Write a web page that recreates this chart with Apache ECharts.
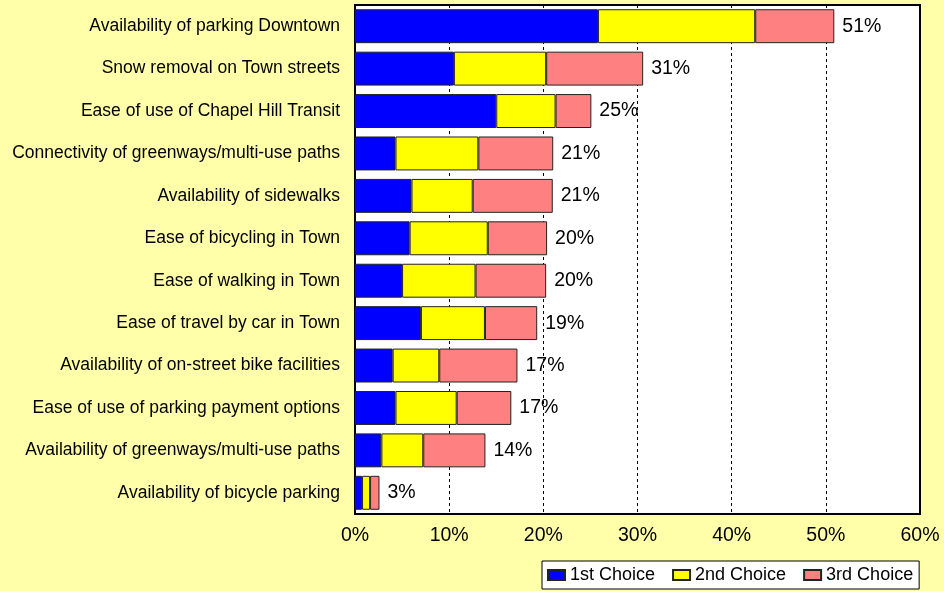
<!DOCTYPE html>
<html>
<head>
<meta charset="utf-8">
<script src="https://cdn.jsdelivr.net/npm/echarts@6/dist/echarts.min.js"></script>
<style>
  html, body { margin: 0; padding: 0; background: #FFFFAA; }
  #main { width: 944px; height: 591px; }
</style>
</head>
<body>
<div id="main"></div>
<script type="text/javascript">
	// categories, top to bottom
	var categories = [
		'Availability of parking Downtown',
		'Snow removal on Town streets',
		'Ease of use of Chapel Hill Transit',
		'Connectivity of greenways/multi-use paths',
		'Availability of sidewalks',
		'Ease of bicycling in Town',
		'Ease of walking in Town',
		'Ease of travel by car in Town',
		'Availability of on-street bike facilities',
		'Ease of use of parking payment options',
		'Availability of greenways/multi-use paths',
		'Availability of bicycle parking'
	];
	var first  = [25.8, 10.5, 15.0, 4.3, 6.0, 5.8, 5.0, 7.0, 4.0, 4.3, 2.8, 0.75];
	var second = [16.7,  9.8,  6.3, 8.8, 6.5, 8.3, 7.8, 6.8, 4.95, 6.5, 4.45, 0.85];
	var third  = [ 8.4, 10.3,  3.8, 7.95, 8.5, 6.3, 7.5, 5.55, 8.3, 5.8, 6.6, 1.0];
	// total labels shown after each bar
	var totals = [51, 31, 25, 21, 21, 20, 20, 19, 17, 17, 14, 3];
	var seriesNames = ['1st Choice', '2nd Choice', '3rd Choice'];
	var xTicks = [0, 10, 20, 30, 40, 50, 60];

	var font = "'Liberation Sans', Arial, sans-serif";
	var myChart = echarts.init(document.getElementById('main'));

	var option = {
		backgroundColor: '#FFFFAA',
		animation: false,
		textStyle: { fontFamily: font, color: '#000' },
		grid: {
			left: 355, right: 24, top: 5, bottom: 77,
			show: true,
			backgroundColor: '#fff',
			borderColor: '#000',
			borderWidth: 2
		},
		legend: {
			left: 542, top: 561,
			padding: [5, 6, 5, 5],
			itemGap: 17,
			itemWidth: 17,
			itemHeight: 10,
			icon: 'rect',
			backgroundColor: '#fff',
			borderColor: '#000',
			borderWidth: 1,
			borderRadius: 0,
			textStyle: { fontFamily: font, fontSize: 18, color: '#000' },
			data: seriesNames
		},
		xAxis: {
			type: 'value',
			min: xTicks[0],
			max: xTicks[xTicks.length - 1],
			interval: 10,
			axisLine: { show: true, lineStyle: { color: '#000', width: 2 } },
			axisTick: { show: false },
			axisLabel: { formatter: '{value}%', fontSize: 19.5, color: '#000', margin: 12 },
			splitLine: { show: true, lineStyle: { color: '#000', type: [3, 3], width: 1 } }
		},
		yAxis: {
			type: 'category',
			inverse: true,
			data: categories,
			axisLine: { show: true, lineStyle: { color: '#000', width: 2 } },
			axisTick: { show: false },
			axisLabel: { fontSize: 17.5, color: '#000', margin: 15 }
		},
		series: [
			{
				name: seriesNames[0], type: 'bar', stack: 'all',
				barCategoryGap: '20%',
				itemStyle: { color: '#0000FF', borderColor: '#222', borderWidth: 1 },
				data: first
			},
			{
				name: seriesNames[1], type: 'bar', stack: 'all',
				itemStyle: { color: '#FFFF00', borderColor: '#222', borderWidth: 1 },
				data: second
			},
			{
				name: seriesNames[2], type: 'bar', stack: 'all',
				itemStyle: { color: '#FF8080', borderColor: '#222', borderWidth: 1 },
				label: {
					show: true,
					position: 'right',
					distance: 8,
					fontSize: 19.5,
					color: '#000',
					formatter: function (p) { return totals[p.dataIndex] + '%'; }
				},
				data: third
			}
		]
	};
	myChart.setOption(option);
</script>
</body>
</html>
